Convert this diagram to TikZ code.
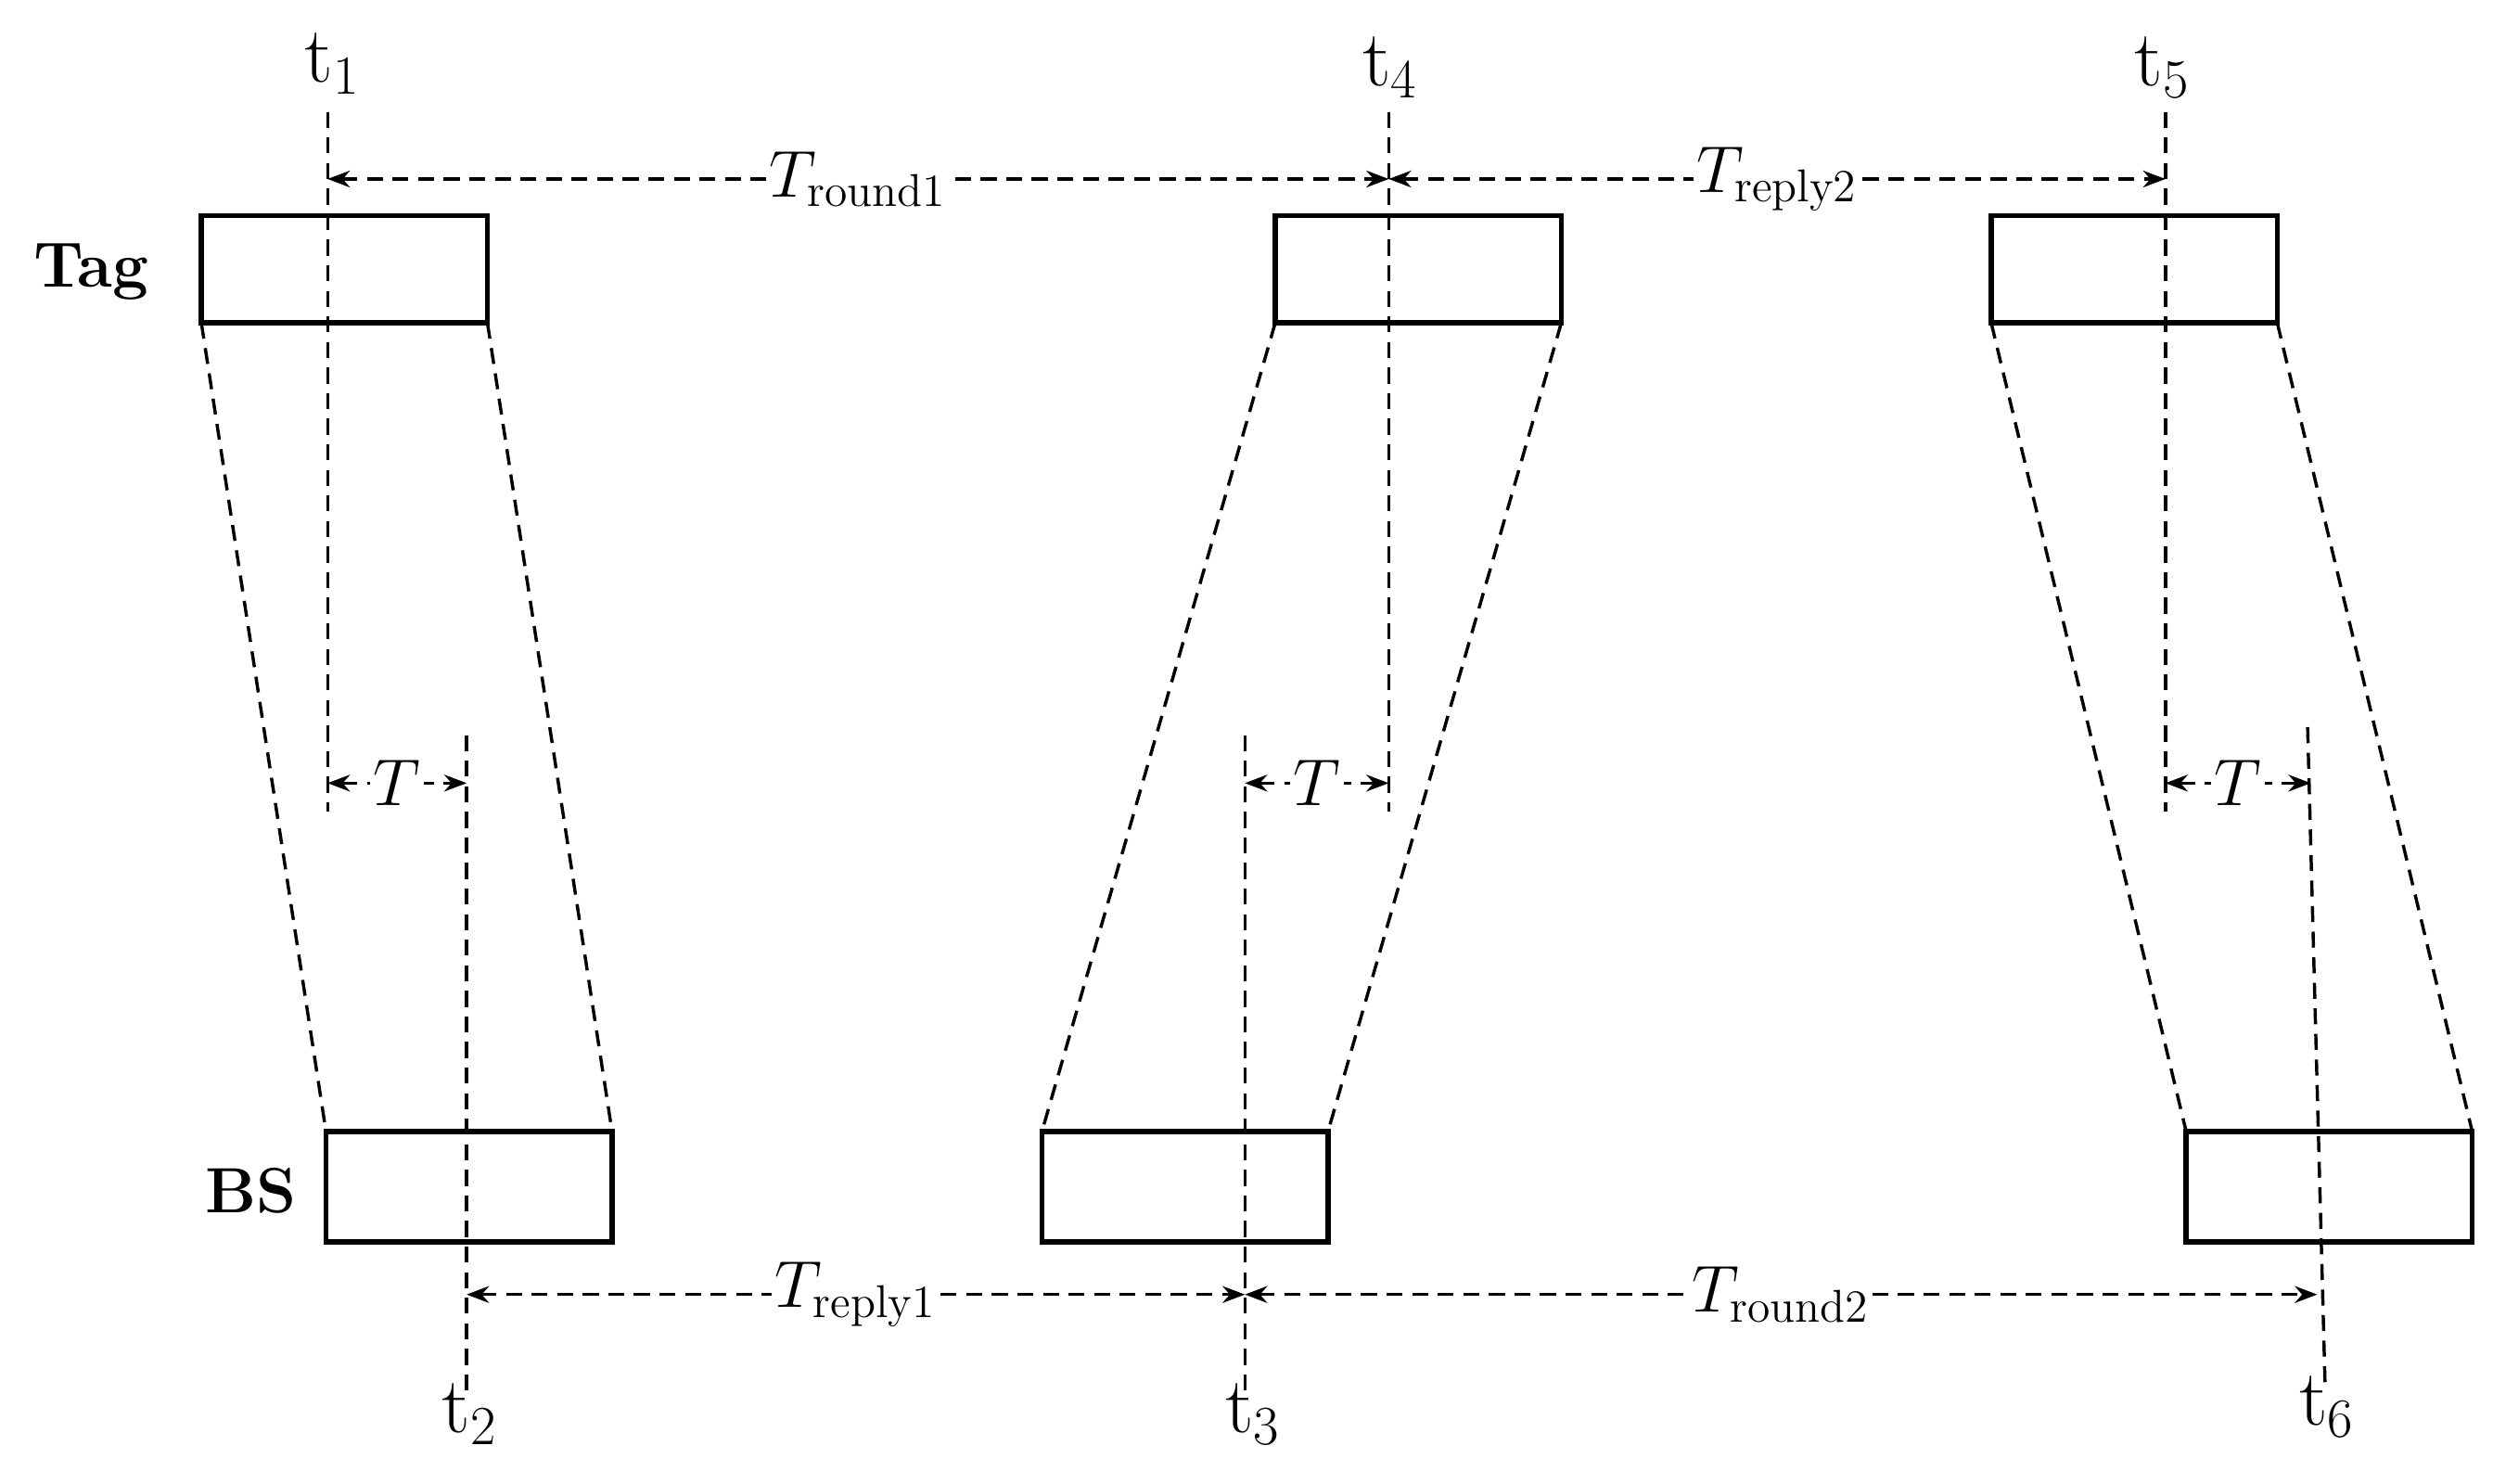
\documentclass[tikz,border=0pt]{standalone}
\usetikzlibrary{arrows.meta}
\begin{document}
\begin{tikzpicture}[x=0.5pt,y=-0.5pt,
 box/.style={draw,line width=1.6pt},
 dl/.style={dashed,line width=1pt,dash pattern=on 5pt off 3pt},
 da/.style={dl,{Stealth[length=7pt]}-{Stealth[length=7pt]}},
 lab/.style={font=\fontsize{22}{24}\selectfont,fill=white,inner sep=1pt},
 tl/.style={font=\fontsize{26}{28}\selectfont},
 side/.style={font=\fontsize{20}{22}\selectfont\bfseries}]
\useasboundingbox (0,0) rectangle (1560,928);
% boxes
\draw[box] (126,135) rectangle (305,202);
\draw[box] (798,135) rectangle (977,202);
\draw[box] (1246,135) rectangle (1425,202);
\draw[box] (204,708) rectangle (383,777);
\draw[box] (652,708) rectangle (831,777);
\draw[box] (1368,708) rectangle (1547,777);
% slants
\draw[dl] (126,202) -- (204,708); \draw[dl] (305,202) -- (383,708);
\draw[dl] (798,202) -- (652,708); \draw[dl] (977,202) -- (831,708);
\draw[dl] (1246,202) -- (1368,708); \draw[dl] (1425,202) -- (1547,708);
% vertical time lines
\coordinate (a1) at (205,70); \coordinate (a2) at (205,508);
\coordinate (b1) at (869,70); \coordinate (b2) at (869,508);
\coordinate (c1) at (1355,70); \coordinate (c2) at (1355,508);
\coordinate (d1) at (292,460); \coordinate (d2) at (292,870);
\coordinate (e1) at (779,460); \coordinate (e2) at (779,870);
\coordinate (f1) at (1450,455); \coordinate (f2) at (1455,870);
\draw[dl] (a1)--(a2); \draw[dl] (b1)--(b2); \draw[dl] (c1)--(c2);
\draw[dl] (d1)--(d2); \draw[dl] (e1)--(e2); \draw[dl] (1444,455)--(1455,870);
% long arrows
\draw[da] (205,112) -- node[lab]{$T_{\mathrm{round1}}$} (869,112);
\draw[da] (869,112) -- node[lab]{$T_{\mathrm{reply2}}$} (1355,112);
\draw[da] (292,810) -- node[lab]{$T_{\mathrm{reply1}}$} (779,810);
\draw[da] (779,810) -- node[lab]{$T_{\mathrm{round2}}$} (1450,810);
% short T arrows
\draw[da] (205,490) -- node[lab]{$T$} (292,490);
\draw[da] (779,490) -- node[lab]{$T$} (869,490);
\draw[da] (1355,490) -- node[lab]{$T$} (1446,490);
% labels
\node[tl] (t1) at (208,40) {$\mathrm{t}_1$};
\node[tl] (t4) at (870,42) {$\mathrm{t}_4$};
\node[tl] (t5) at (1353,42) {$\mathrm{t}_5$};
\node[tl] (t2) at (294,885) {$\mathrm{t}_2$};
\node[tl] (t3) at (784,885) {$\mathrm{t}_3$};
\node[tl] (t6) at (1456,880) {$\mathrm{t}_6$};
\node[side] (tag) at (57,170) {Tag};
\node[side] (bs) at (157,745) {BS};
\end{tikzpicture}
\end{document}
